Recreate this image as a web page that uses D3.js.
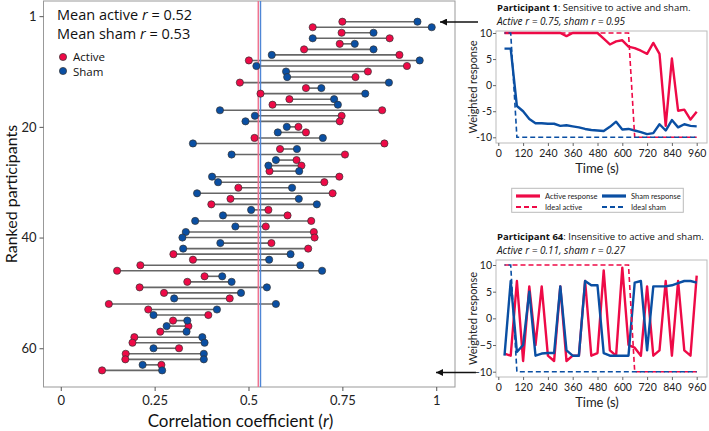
<!DOCTYPE html>
<html><head><meta charset="utf-8">
<script src="https://cdn.jsdelivr.net/npm/d3@7"></script>
<style>
html,body{margin:0;padding:0;background:#fff;}
svg{display:block;}
</style></head>
<body><svg id="c" width="709" height="431"></svg>
<script>
// ---------------- DATA ----------------
const ranks = [1,2,3,4,5,6,7,8,9,10,11,12,13,14,15,16,17,18,19,20,21,22,23,24,25,26,27,28,29,30,31,32,33,34,35,36,37,38,39,40,41,42,43,44,45,46,47,48,49,50,51,52,53,54,55,56,57,58,59,60,61,62,63,64];
const activeR = [0.75,0.671,0.748,0.876,0.743,0.648,0.902,0.501,0.922,0.818,0.785,0.477,0.653,0.532,0.609,0.564,0.856,0.748,0.743,0.633,
  0.653,0.516,0.862,0.584,0.757,0.628,0.641,0.556,0.742,0.702,0.473,0.724,0.452,0.401,0.553,0.604,0.667,0.546,0.674,0.676,
  0.561,0.659,0.300,0.352,0.212,0.150,0.383,0.337,0.210,0.275,0.450,0.128,0.233,0.393,0.299,0.340,0.265,0.196,0.191,0.315,
  0.173,0.172,0.268,0.11];
const shamR = [0.95,0.988,0.833,0.671,0.783,0.833,0.562,0.956,0.521,0.600,0.603,0.874,0.694,0.811,0.728,0.738,0.424,0.517,0.492,0.602,
  0.578,0.698,0.352,0.629,0.455,0.573,0.553,0.635,0.403,0.419,0.616,0.363,0.634,0.682,0.507,0.432,0.358,0.465,0.333,0.324,
  0.425,0.326,0.612,0.555,0.638,0.696,0.430,0.455,0.549,0.480,0.302,0.573,0.416,0.247,0.337,0.282,0.335,0.377,0.383,0.247,
  0.381,0.381,0.218,0.27];
const meanActive = 0.526, meanSham = 0.532;
const rankTickVals = [0,20,40,60];
const rankTickLabels = ["1","20","40","60"];
const rTicks = [0,0.25,0.5,0.75,1];
const rTickLabels = ["0","0.25","0.5","0.75","1"];

const timeS = [30,60,90,120,150,180,210,240,270,300,330,360,390,420,450,480,510,540,570,600,630,660,690,720,750,780,810,840,870,900,930,960];
const timeTicks = [0,120,240,360,480,600,720,840,960];
const p1Active = [10,10,10,10,10,10,10,10,10,10,9.4,10,10,10,10,10,8.9,7.8,8.4,8.6,7.4,7.1,6.6,6.0,8.1,6.0,-7.8,5.1,-4.9,-4.7,-6.6,-5.1];
const p1Sham   = [7,7,-4,-5,-6.5,-7.3,-7.3,-7.4,-7.4,-7.8,-7.7,-7.9,-8.1,-8.4,-8.6,-8.7,-8.8,-8.0,-7.0,-8.5,-8.4,-8.7,-9.0,-9.4,-9.2,-7.5,-8.7,-6.7,-8.1,-7.5,-7.8,-7.9];
const p64Active = [-6.6,-7,7,-8,6,-5,6,-7,-8,6,-8,-7,-7,7,-7,-6.5,9,-6,-7,9.5,-5,-5.5,-7,6,-7,-6,7,-7,7,-6,-7,8];
const p64Sham   = [-7,7,-6.3,-5,5,-7,-6.6,-6.5,-6.5,6,-6,-7,-7,7,6.2,6.2,-6.5,-7,-7,-7,-7,6.7,7,-6,6,6,6,6.2,6.6,7,7,6.7];
const idealActive = [10,10,10,10,10,10,10,10,10,10,10,10,10,10,10,10,10,10,10,10,10,-10,-10,-10,-10,-10,-10,-10,-10,-10,-10,-10];
const idealSham   = [10,10,-10,-10,-10,-10,-10,-10,-10,-10,-10,-10,-10,-10,-10,-10,-10,-10,-10,-10,-10,-10,-10,-10,-10,-10,-10,-10,-10,-10,-10,-10];
const respTicks = [10,5,0,-5,-10];

// ---------------- STYLE ----------------
const RED = "#ee0a47", BLUE = "#0a4fa3";
const svg = d3.select("#c");
const axFont = "Lato, 'Open Sans', sans-serif";
const txtFont = "'Open Sans', sans-serif";

// ---------------- MAIN CHART ----------------
const M = {l:43.5, r:455, t:1, b:387};
const x = d3.scaleLinear().domain([-0.046,1.05]).range([M.l,M.r]);
const y = d3.scaleLinear().domain([-2.74,67]).range([M.t,M.b]);

const main = svg.append("g");
main.append("rect").attr("x",M.l).attr("y",M.t).attr("width",M.r-M.l).attr("height",M.b-M.t)
  .attr("fill","none").attr("stroke","#999").attr("stroke-width",1);

const xAxis = d3.axisBottom(x).tickValues(rTicks).tickFormat((d,i)=>rTickLabels[i]).tickSize(4).tickSizeOuter(0);
const gx = main.append("g").attr("transform",`translate(0,${M.b})`).call(xAxis);
gx.select(".domain").remove();
gx.selectAll("line").attr("stroke","#555");
gx.selectAll("text").attr("font-family",axFont).attr("font-size",13).attr("fill","#222").attr("y",18).attr("dy",0);

const yAxis = d3.axisLeft(y).tickValues(rankTickVals).tickFormat((d,i)=>rankTickLabels[i]).tickSize(4).tickSizeOuter(0);
const gy = main.append("g").attr("transform",`translate(${M.l},0)`).call(yAxis);
gy.select(".domain").remove();
gy.selectAll("line").attr("stroke","#555");
gy.selectAll("text").attr("font-family",axFont).attr("font-size",13).attr("fill","#222");

main.append("text").attr("x",(x(0)+x(1))/2-8).attr("y",427).attr("text-anchor","middle")
  .attr("font-family",axFont).attr("font-size",17).attr("fill","#111")
  .html('Correlation coefficient (<tspan font-style="italic">r</tspan>)');
main.append("text").attr("transform",`translate(17,${(M.t+M.b)/2}) rotate(-90)`).attr("text-anchor","middle")
  .attr("font-family",axFont).attr("font-size",16).attr("fill","#111").text("Ranked participants");

// connectors
main.append("g").selectAll("line").data(ranks).join("line")
  .attr("x1",(d,i)=>x(Math.min(activeR[i],shamR[i])))
  .attr("x2",(d,i)=>x(Math.max(activeR[i],shamR[i])))
  .attr("y1",d=>y(d)).attr("y2",d=>y(d))
  .attr("stroke","#666").attr("stroke-width",1.6);

// mean lines
main.append("line").attr("x1",x(meanActive)).attr("x2",x(meanActive)).attr("y1",M.t).attr("y2",M.b)
  .attr("stroke","#ef6f8c").attr("stroke-width",1.4);
main.append("line").attr("x1",x(meanSham)).attr("x2",x(meanSham)).attr("y1",M.t).attr("y2",M.b)
  .attr("stroke","#4f86d6").attr("stroke-width",1.4);

// dots
main.append("g").selectAll("circle").data(ranks).join("circle")
  .attr("cx",(d,i)=>x(activeR[i])).attr("cy",d=>y(d)).attr("r",3.6)
  .attr("fill",RED).attr("stroke","#333").attr("stroke-width",0.7);
main.append("g").selectAll("circle").data(ranks).join("circle")
  .attr("cx",(d,i)=>x(shamR[i])).attr("cy",d=>y(d)).attr("r",3.6)
  .attr("fill",BLUE).attr("stroke","#333").attr("stroke-width",0.7);

// annotation
const ann = main.append("g").attr("font-family",txtFont).attr("fill","#111");
ann.append("text").attr("x",57).attr("y",20).attr("font-size",14.5)
  .html('Mean active <tspan font-style="italic">r</tspan> = 0.52');
ann.append("text").attr("x",57).attr("y",39).attr("font-size",14.5)
  .html('Mean sham <tspan font-style="italic">r</tspan> = 0.53');
ann.append("circle").attr("cx",63).attr("cy",57).attr("r",3.6).attr("fill",RED).attr("stroke","#333").attr("stroke-width",0.7);
ann.append("circle").attr("cx",63).attr("cy",71).attr("r",3.6).attr("fill",BLUE).attr("stroke","#333").attr("stroke-width",0.7);
ann.append("text").attr("x",73).attr("y",61).attr("font-size",11.5).text("Active");
ann.append("text").attr("x",73).attr("y",75.5).attr("font-size",11.5).text("Sham");

// arrows
svg.append("defs").append("marker").attr("id","ah").attr("viewBox","0 0 10 10").attr("refX",10).attr("refY",5)
  .attr("markerWidth",9).attr("markerHeight",7).attr("markerUnits","userSpaceOnUse").attr("orient","auto")
  .append("path").attr("d","M0,0 L10,5 L0,10 Z").attr("fill","#111");
svg.append("line").attr("x1",478).attr("y1",22).attr("x2",440).attr("y2",22)
  .attr("stroke","#111").attr("stroke-width",1.5).attr("marker-end","url(#ah)");
svg.append("line").attr("x1",476).attr("y1",372.5).attr("x2",436).attr("y2",372.5)
  .attr("stroke","#111").attr("stroke-width",1.5).attr("marker-end","url(#ah)");

// ---------------- INSETS ----------------
function inset(cfg){
  const g = svg.append("g");
  const xs = d3.scaleLinear().domain([0,960]).range([498.3,696.7]);
  const ys = d3.scaleLinear().domain([10,-10]).range([cfg.y10,cfg.ym10]);
  g.append("rect").attr("x",cfg.L).attr("y",cfg.T).attr("width",cfg.R-cfg.L).attr("height",cfg.B-cfg.T)
    .attr("fill","none").attr("stroke","#bbb").attr("stroke-width",1);
  const ax = d3.axisBottom(xs).tickValues(timeTicks).tickSize(3).tickSizeOuter(0);
  const gxa = g.append("g").attr("transform",`translate(0,${cfg.B})`).call(ax);
  gxa.select(".domain").remove();
  gxa.selectAll("line").attr("stroke","#666");
  gxa.selectAll("text").attr("font-family",axFont).attr("font-size",10.5).attr("fill","#222").attr("y",14).attr("dy",0);
  const ay = d3.axisLeft(ys).tickValues(respTicks).tickFormat((d,i)=>cfg.yLabels[i]).tickSize(3).tickSizeOuter(0);
  const gya = g.append("g").attr("transform",`translate(${cfg.L},0)`).call(ay);
  gya.select(".domain").remove();
  gya.selectAll("line").attr("stroke","#666");
  gya.selectAll("text").attr("font-family",axFont).attr("font-size",10.5).attr("fill","#222").attr("x",-4);
  g.append("text").attr("transform",`translate(476.5,${(cfg.T+cfg.B)/2}) rotate(-90)`).attr("text-anchor","middle")
    .attr("font-family",axFont).attr("font-size",11).attr("fill","#222").text("Weighted response");
  g.append("text").attr("x",597).attr("y",cfg.B+30).attr("text-anchor","middle")
    .attr("font-family",axFont).attr("font-size",13).attr("fill","#222").text("Time (s)");
  g.append("text").attr("x",497).attr("y",cfg.T-20).attr("font-family",txtFont).attr("font-size",9.5).attr("fill","#111")
    .html(`<tspan font-weight="bold">${cfg.name}</tspan>: ${cfg.desc}`);
  g.append("text").attr("x",497).attr("y",cfg.T-6.5).attr("font-family",txtFont).attr("font-size",10).attr("font-style","italic").attr("fill","#111")
    .text(cfg.sub);
  const line = d3.line().x((d,i)=>xs(timeS[i])).y(d=>ys(d));
  const cg = g.append("g");
  cg.append("path").datum(cfg.active).attr("d",line).attr("fill","none").attr("stroke",RED).attr("stroke-width",2.4).attr("stroke-linejoin","round");
  cg.append("path").datum(cfg.sham).attr("d",line).attr("fill","none").attr("stroke",BLUE).attr("stroke-width",2.4).attr("stroke-linejoin","round");
  cg.append("path").datum(idealActive).attr("d",line).attr("fill","none").attr("stroke",RED).attr("stroke-width",1.6).attr("stroke-dasharray","5,3");
  cg.append("path").datum(idealSham).attr("d",line).attr("fill","none").attr("stroke",BLUE).attr("stroke-width",1.6).attr("stroke-dasharray","5,3").attr("stroke-dashoffset",4);
  return g;
}
inset({L:496,R:707,T:31,B:143,y10:33,ym10:137.3,yLabels:["10","5","0","-5","-10"],
  name:"Participant 1",desc:"Sensitive to active and sham.",sub:"Active r = 0.75, sham r = 0.95",
  active:p1Active,sham:p1Sham});
inset({L:496,R:707,T:260,B:377,y10:265,ym10:371.7,yLabels:["10","5","0","\u22125","\u221210"],
  name:"Participant 64",desc:"Insensitive to active and sham.",sub:"Active r = 0.11, sham r = 0.27",
  active:p64Active,sham:p64Sham});

// inset legend
const lg = svg.append("g");
lg.append("rect").attr("x",511.7).attr("y",188.3).attr("width",171.6).attr("height",24).attr("fill","#fff").attr("stroke","#bbb");
const legItems = [
  {x:516,y:196,c:RED,dash:null,t:"Active response"},
  {x:602,y:196,c:BLUE,dash:null,t:"Sham response"},
  {x:516,y:207,c:RED,dash:"5,3",t:"Ideal active"},
  {x:602,y:207,c:BLUE,dash:"5,3",t:"Ideal sham"}];
legItems.forEach(it=>{
  lg.append("line").attr("x1",it.x).attr("x2",it.x+24).attr("y1",it.y).attr("y2",it.y)
    .attr("stroke",it.c).attr("stroke-width",it.dash?2.2:3.2).attr("stroke-dasharray",it.dash);
  lg.append("text").attr("x",it.x+29).attr("y",it.y+2.8).attr("font-family",axFont).attr("font-size",7.5).attr("fill","#222").text(it.t);
});
</script></body></html>
